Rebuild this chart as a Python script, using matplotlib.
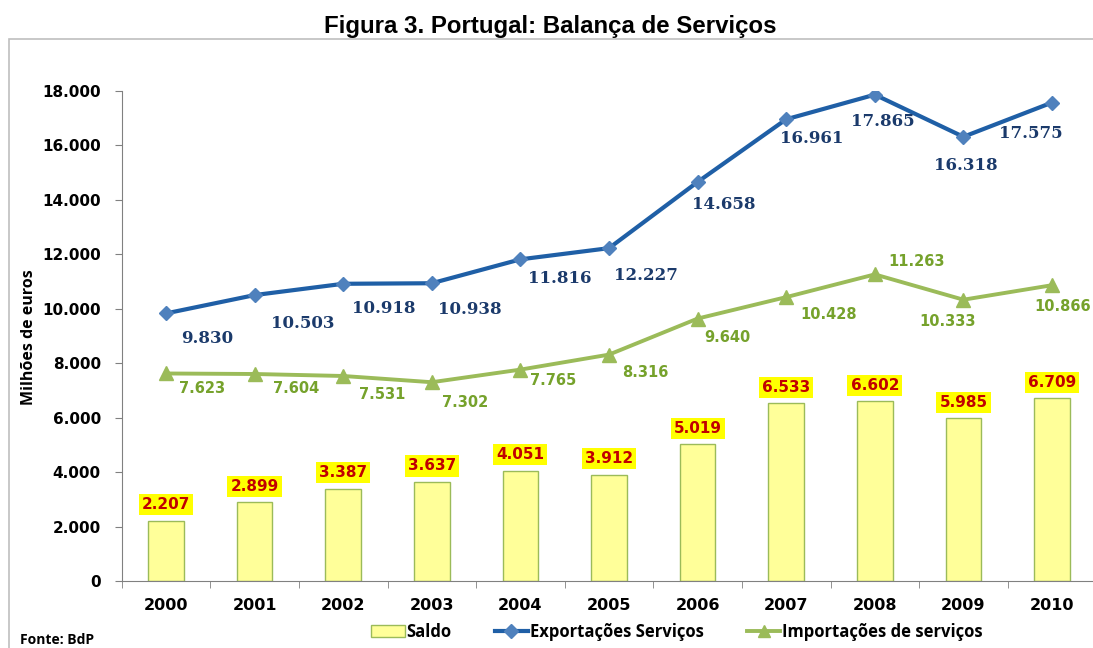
import matplotlib.pyplot as plt
import numpy as np
from matplotlib.lines import Line2D
from matplotlib.patches import Patch, Rectangle

YEARS = ["2000", "2001", "2002", "2003", "2004", "2005",
         "2006", "2007", "2008", "2009", "2010"]
SALDO = [2207, 2899, 3387, 3637, 4051, 3912, 5019, 6533, 6602, 5985, 6709]
EXPORTACOES = [9830, 10503, 10918, 10938, 11816, 12227,
               14658, 16961, 17865, 16318, 17575]
IMPORTACOES = [7623, 7604, 7531, 7302, 7765, 8316,
               9640, 10428, 11263, 10333, 10866]
Y_TICKS = [0, 2000, 4000, 6000, 8000, 10000, 12000, 14000, 16000, 18000]

# label offsets (pixels) relative to each point, as placed in the original
EXP_OFF = [(41, -25), (48, -28), (41, -25), (38, -26), (39, -19), (37, -27),
           (26, -23), (25, -19), (8, -27), (2, -29), (-21, -31)]
IMP_OFF = [(36, -15), (42, -14), (39, -19), (33, -20), (33, -11), (36, -18),
           (30, -19), (42, -17), (42, 13), (-16, -22), (11, -21)]

NAVY = "#1B3A6B"
BLUE = "#1F5FA6"
BLUE_MK = "#4F81BD"
GREEN = "#9BBB59"
GREEN_TXT = "#76A22C"
RED = "#C00000"


def fmt(v):
    return f"{v:,}".replace(",", ".")


fig = plt.figure(figsize=(10.93, 6.48), dpi=100)
W, H = 1093, 648
ax = fig.add_axes([121.7 / W, (H - 581) / H, 974.6 / W, 490 / H])

# outer chart border
fig.add_artist(Rectangle((9 / W, -0.1), 1.2, (H - 39) / H + 0.1,
                         transform=fig.transFigure, fill=False,
                         edgecolor="#BFBFBF", linewidth=1.2))

x = np.arange(len(YEARS))
ax.bar(x, SALDO, width=0.40, color="#FFFF99", edgecolor=GREEN,
       linewidth=1.0, zorder=2)
ax.plot(x, EXPORTACOES, color=BLUE, linewidth=3.0, marker="D",
        markersize=7.5, markerfacecolor=BLUE_MK, markeredgecolor=BLUE_MK,
        zorder=3)
ax.plot(x, IMPORTACOES, color=GREEN, linewidth=2.8, marker="^",
        markersize=10, markerfacecolor=GREEN, markeredgecolor=GREEN,
        zorder=3)

for i, v in enumerate(EXPORTACOES):
    ax.annotate(fmt(v), (x[i], v), xytext=EXP_OFF[i], textcoords="offset pixels",
                ha="center", va="center", color=NAVY, fontsize=12,
                fontweight="bold", family="DejaVu Serif")
for i, v in enumerate(IMPORTACOES):
    ax.annotate(fmt(v), (x[i], v), xytext=IMP_OFF[i], textcoords="offset pixels",
                ha="center", va="center", color=GREEN_TXT, fontsize=10.5,
                fontweight="bold")
for i, v in enumerate(SALDO):
    ax.annotate(fmt(v), (x[i], v), xytext=(0, 16), textcoords="offset pixels",
                ha="center", va="center", color=RED, fontsize=11,
                fontweight="bold",
                bbox=dict(boxstyle="square,pad=0.2", facecolor="#FFFF00",
                          edgecolor="none"))

ax.set_xlim(-0.5, len(YEARS) - 0.5)
ax.set_ylim(0, 18000)
ax.set_yticks(Y_TICKS)
ax.set_yticklabels([fmt(t) for t in Y_TICKS], fontsize=11, fontweight="bold")
ax.set_xticks(x)
ax.set_xticklabels(YEARS, fontsize=11.5, fontweight="bold")
ax.set_xticks(np.arange(-0.5, len(YEARS), 1.0), minor=True)
ax.tick_params(axis="x", which="major", length=0, pad=12)
ax.tick_params(axis="x", which="minor", length=5, color="#808080")
ax.tick_params(axis="y", length=5, color="#808080", pad=10)
for s in ["top", "right"]:
    ax.spines[s].set_visible(False)
for s in ["left", "bottom"]:
    ax.spines[s].set_color("#808080")
ax.set_ylabel("Milhões de euros", fontsize=11.5, fontweight="bold",
              family="Open Sans")
ax.yaxis.set_label_coords(-(121.7 - 37) / 974.6, (581 - 337) / 490)

fig.text(550 / W, 1 - 27 / H, "Figura 3. Portugal: Balança de Serviços",
         ha="center", va="center", fontsize=17.3, fontweight="bold",
         family="Liberation Sans")

handles = [
    Patch(facecolor="#FFFF99", edgecolor=GREEN, label="Saldo"),
    Line2D([], [], color=BLUE, linewidth=3.0, marker="D", markersize=7,
           markerfacecolor=BLUE_MK, markeredgecolor=BLUE_MK,
           label="Exportações Serviços"),
    Line2D([], [], color=GREEN, linewidth=2.8, marker="^", markersize=9,
           markerfacecolor=GREEN, markeredgecolor=GREEN,
           label="Importações de serviços"),
]
fig.legend(handles=handles, loc="center", bbox_to_anchor=(677 / W, 1 - 632 / H),
           ncol=3, frameon=False,
           prop={"family": "Open Sans", "weight": "bold", "size": 12},
           handlelength=2.0, handletextpad=0.1, columnspacing=2.6)

fig.text(20 / W, 1 - 640 / H, "Fonte: BdP", ha="left", va="center",
         fontsize=10, fontweight="bold", family="Open Sans")

fig.savefig("out.png", dpi=100)
